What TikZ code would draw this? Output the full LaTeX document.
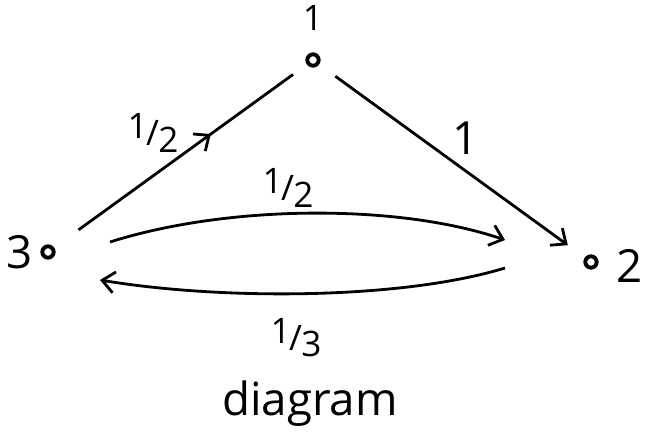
\documentclass[tikz,border=0pt]{standalone}
\usepackage{fontspec}
\setmainfont{Open Sans}
\usetikzlibrary{arrows.meta,calc,decorations.markings}

\newcommand{\wfrac}[2]{\raisebox{0.35ex}{#1}\kern-0.04em/\kern-0.02em\raisebox{-0.35ex}{#2}}

\tikzset{
  dot/.style={circle,draw,line width=2.2pt,fill=white,inner sep=0pt,minimum size=6.5pt},
  num/.style={font=\fontsize{26}{28}\selectfont},
  wt/.style={font=\fontsize{20}{22}\selectfont},
  tip/.style={-{Straight Barb[length=7pt,width=12pt,line width=1.6pt]}},
  link/.style={line width=1.6pt},
  midarrow/.style={postaction={decorate},decoration={markings,
    mark=at position #1 with {\arrow{Straight Barb[length=7pt,width=12pt,line width=1.6pt]}}}},
}

\begin{document}
\begin{tikzpicture}[x=0.02cm,y=-0.02cm]
  \useasboundingbox (0,0) rectangle (649,447);
  % vertices
  \node[dot] (v1) at (313,60) {};
  \node[dot] (v2) at (591,262) {};
  \node[dot] (v3) at (48,252) {};
  \node[wt] (l1) at (313,18) {1};
  \node[num] (l2) at (630,266) {2};
  \node[num] (l3) at (20,252) {3};

  % transitions
  \draw[link,midarrow=0.62,shorten <=0.6cm,shorten >=0.34cm] (v3) -- (v1);
  \draw[link,tip,shorten <=0.4cm,shorten >=0.42cm] (v1) -- (v2);
  \draw[link,tip] ($(v3)+(62,-10)$) .. controls +(120,-38) and +(-105,-36) .. ($(v2)+(-86,-22)$);
  \draw[link,tip] ($(v2)+(-86,6)$) .. controls +(-105,32) and +(120,20) .. ($(v3)+(52,28)$);

  % weights
  \node[wt] (w31) at (153,133) {\wfrac{1}{2}};
  \node[num] (w12) at (466,138) {1};
  \node[wt] (w32) at (288,188) {\wfrac{1}{2}};
  \node[wt] (w23) at (296,338) {\wfrac{1}{3}};

  \node[num] (cap) at (310,404) {diagram};
\end{tikzpicture}
\end{document}
